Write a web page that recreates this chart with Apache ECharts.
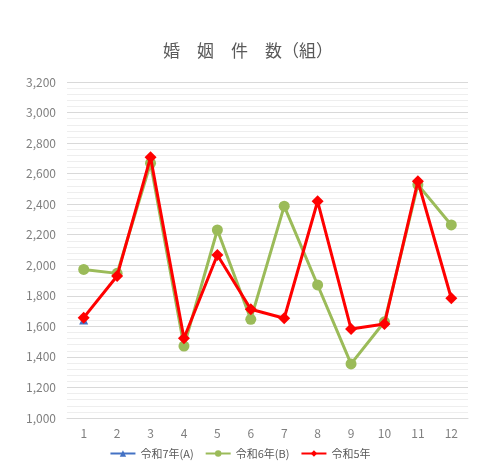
<!DOCTYPE html>
<html><head><meta charset="utf-8">
<script src="https://cdn.jsdelivr.net/npm/echarts@6/dist/echarts.min.js"></script>
<style>html,body{margin:0;padding:0;background:#fff}#c{width:480px;height:474px}</style>
</head><body><div id="c"></div>
<script>
const months = ['1','2','3','4','5','6','7','8','9','10','11','12'];
const r7 = [1642, null, null, null, null, null, null, null, null, null, null, null];
const r6 = [1973, 1947, 2668, 1471, 2231, 1646, 2387, 1871, 1354, 1630, 2528, 2264];
const r5 = [1657, 1930, 2707, 1522, 2067, 1712, 1653, 2419, 1583, 1616, 2550, 1784];
const names = ['令和7年(A)', '令和6年(B)', '令和5年'];
const font = '"Noto Sans CJK JP", sans-serif';
const chart = echarts.init(document.getElementById('c'));
chart.setOption({
  animation: false,
  title: {text: '婚　姻　件　数（組）', left: 158, top: 37,
    textStyle: {fontFamily: font, fontSize: 17, fontWeight: 'normal', color: '#595959'}},
  grid: {left: 67, right: 12, top: 82, bottom: 56},
  legend: {bottom: 10, left: 'center', itemWidth: 25, itemHeight: 8, itemGap: 11,
    textStyle: {fontFamily: font, fontSize: 11, color: '#595959'},
    data: names},
  xAxis: {type: 'category', data: months, boundaryGap: true,
    axisLine: {show: true, lineStyle: {color: '#d9d9d9'}}, axisTick: {show: false},
    axisLabel: {fontFamily: font, fontSize: 12, color: '#7f7f7f', margin: 9}},
  yAxis: {type: 'value', min: 1000, max: 3200, interval: 200,
    axisLine: {show: false}, axisTick: {show: false},
    axisLabel: {fontFamily: font, fontSize: 12, color: '#7f7f7f', margin: 11,
      formatter: v => v.toLocaleString('en-US')},
    splitLine: {lineStyle: {color: '#d9d9d9', width: 1}},
    minorTick: {show: false, splitNumber: 5},
    minorSplitLine: {show: true, lineStyle: {color: '#eeeeee', width: 1}}},
  series: [
    {name: names[0], type: 'line', data: r7, symbol: 'triangle', symbolSize: 9,
      color: '#4472C4', lineStyle: {width: 3}, z: 2},
    {name: names[1], type: 'line', data: r6, symbol: 'circle', symbolSize: 11,
      color: '#9BBB59', lineStyle: {width: 3}, z: 3},
    {name: names[2], type: 'line', data: r5, symbol: 'diamond', symbolSize: 12,
      color: '#FF0000', lineStyle: {width: 3}, z: 4}
  ]
});
</script></body></html>
